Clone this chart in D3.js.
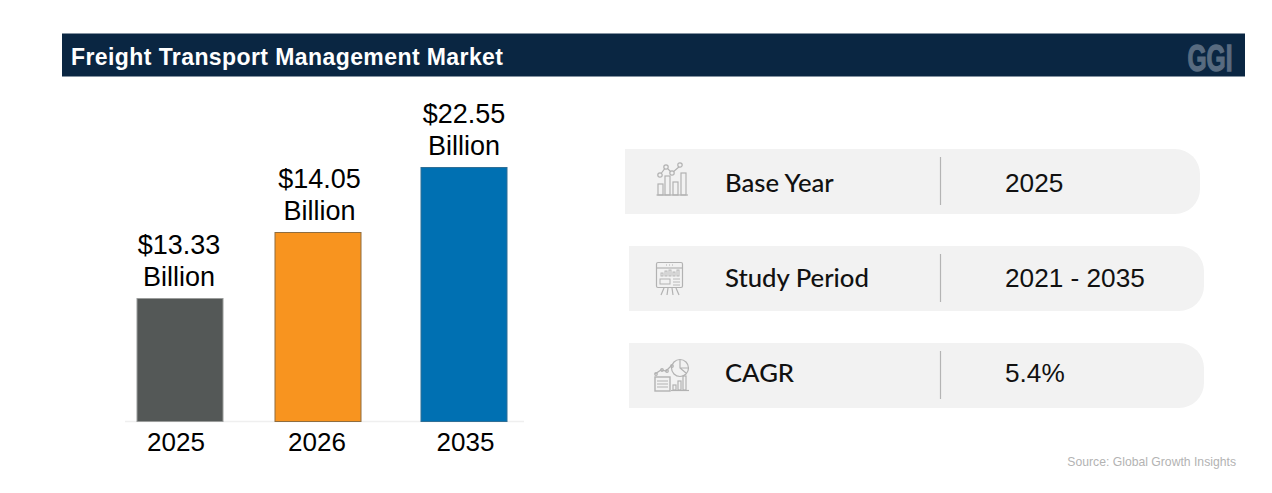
<!DOCTYPE html>
<html>
<head>
<meta charset="utf-8">
<script src="https://cdn.jsdelivr.net/npm/d3@7/dist/d3.min.js"></script>
<style>
html,body{margin:0;padding:0;background:#fff;overflow:hidden}
svg{display:block}
text{font-family:"Liberation Sans",Arial,sans-serif}
</style>
</head>
<body>
<svg id="chart" width="1272" height="493"></svg>
<script>
const chartTitle = "Freight Transport Management Market";
const brandMark = "GGI";
const sourceNote = "Source: Global Growth Insights";

const years = ["2025", "2026", "2035"];
const marketValues = [13.33, 14.05, 22.55];
const barColors = ["#545857", "#f8941f", "#0070b2"];
const barEdges = ["#9a9c9b", "#8f6d3f", "#2f6f96"];

const factLabels = ["Base Year", "Study Period", "CAGR"];
const factValues = ["2025", "2021 - 2035", "5.4%"];

const svg = d3.select("#chart");

// Header band
svg.append("rect").attr("x", 62).attr("y", 33.5).attr("width", 1183).attr("height", 43).attr("fill", "#0a2642");
svg.append("text").attr("x", 71).attr("y", 65).attr("fill", "#fff")
  .attr("font-size", 23).attr("font-weight", 700)
  .attr("textLength", 432).attr("lengthAdjust", "spacing").text(chartTitle);
svg.append("text").attr("x", 1187.5).attr("y", 71).attr("fill", "#586b80")
  .attr("stroke", "#586b80").attr("stroke-width", 1.3)
  .attr("font-size", 36).attr("font-weight", 700)
  .attr("textLength", 45).attr("lengthAdjust", "spacingAndGlyphs").text(brandMark);

// The bars are schematic: the value scale is stepped, not proportional to zero
const y = d3.scaleLinear().domain([0, 13.33, 14.05, 22.55]).range([421, 298, 232, 167]);
const x = d3.scaleOrdinal().domain(years).range([180, 318, 464]);
const barWidth = 86;
const bars = years.map((year, i) => ({ year, value: marketValues[i], i }));

svg.append("line").attr("x1", 125).attr("x2", 524).attr("y1", 421.5).attr("y2", 421.5)
  .attr("stroke", "#efefef").attr("stroke-width", 1.5);

svg.selectAll("rect.bar").data(bars).join("rect").attr("class", "bar")
  .attr("x", d => x(d.year) - barWidth / 2)
  .attr("y", d => y(d.value) + 0.5)
  .attr("width", barWidth)
  .attr("height", d => y(0) - y(d.value))
  .attr("fill", d => barColors[d.i])
  .attr("stroke", d => barEdges[d.i])
  .attr("stroke-width", 1);

// Two-line value labels above each bar
const labelNudge = [-1, 1.5, 0];
const labels = svg.selectAll("g.value").data(bars).join("g").attr("class", "value")
  .attr("text-anchor", "middle").attr("font-size", 27).attr("fill", "#000");
labels.append("text").attr("x", d => x(d.year) + labelNudge[d.i]).attr("y", d => y(d.value) - 44)
  .text(d => "$" + d.value.toFixed(2));
labels.append("text").attr("x", d => x(d.year) + labelNudge[d.i]).attr("y", d => y(d.value) - 12)
  .text("Billion");

// Category axis built with d3.axisBottom; tick labels sit slightly off the bar centres
const tickNudge = { "2025": -4.5, "2026": -1.5, "2035": 1 };
const axis = d3.axisBottom(x).tickSize(0).tickPadding(0);
const axisG = svg.append("g").attr("transform", "translate(0,451)").call(axis);
axisG.select(".domain").remove();
axisG.selectAll("text")
  .attr("dy", 0).attr("dx", d => tickNudge[d])
  .attr("y", 0).attr("font-size", 26).attr("fill", "#000")
  .style("font-family", '"Liberation Sans",Arial,sans-serif');

// Key facts panels, square on the left and rounded on the right
const panelX = [625, 629, 629];
const panelY = [149, 246, 343];
const panelW = 575, panelH = 65, r = 25;
const panelPath = (px, py) =>
  `M${px},${py}H${px + panelW - r}A${r},${r} 0 0 1 ${px + panelW},${py + r}V${py + panelH - r}` +
  `A${r},${r} 0 0 1 ${px + panelW - r},${py + panelH}H${px}Z`;

const panels = svg.selectAll("g.panel").data(factLabels).join("g").attr("class", "panel");
panels.append("path").attr("d", (d, i) => panelPath(panelX[i], panelY[i])).attr("fill", "#f2f2f2");
panels.append("line")
  .attr("x1", 940.5).attr("x2", 940.5)
  .attr("y1", (d, i) => panelY[i] + 8).attr("y2", (d, i) => panelY[i] + 56)
  .attr("stroke", "#b4b4b4").attr("stroke-width", 1.2);
const panelFont = 'Lato,"Noto Sans",sans-serif';
panels.append("text").attr("x", 725).attr("y", (d, i) => [192, 287, 382][i])
  .attr("font-size", 25.7).attr("fill", "#111").style("font-family", panelFont).attr("font-weight", 500)
  .text(d => d);
panels.append("text").attr("x", 1005).attr("y", (d, i) => [192, 287, 382][i])
  .attr("font-size", 26.2).attr("fill", "#111").text((d, i) => factValues[i]);

// Line icons
const iconStroke = "#b2b2b2";
function icon(tx, ty) {
  return svg.append("g").attr("transform", `translate(${tx},${ty})`)
    .attr("fill", "none").attr("stroke", iconStroke).attr("stroke-width", 1.2);
}
// growth chart
const a = icon(655, 162);
a.append("path").attr("d", "M1.500,33H33");
[[3, 22, 5, 11], [10, 14, 5, 19], [18, 20, 5, 13], [26, 11, 5, 22]].forEach(b =>
  a.append("rect").attr("x", b[0]).attr("y", b[1]).attr("width", b[2]).attr("height", b[3]));
a.append("path").attr("d", "M5,13L11,5L17,11L25,4");
[[5, 13], [11, 5], [17, 11], [25, 3]].forEach(p =>
  a.append("circle").attr("cx", p[0]).attr("cy", p[1]).attr("r", 2.2).attr("fill", "#f2f2f2"));

// presentation board
const b = icon(656, 262);
b.append("rect").attr("x", 0.5).attr("y", 0.5).attr("width", 26).attr("height", 25).attr("rx", 1.5);
b.append("path").attr("d", "M0.500,6H26.500");
b.append("path").attr("d", "M10,3H11M13,3H14M16,3H17");
[[5, 11, 2, 3], [9, 9, 2, 5], [13, 8, 2, 6], [17, 10, 2, 4], [21, 8, 2, 6]].forEach(s =>
  b.append("rect").attr("x", s[0]).attr("y", s[1]).attr("width", s[2]).attr("height", s[3]).attr("stroke-width", 0.9));
b.append("rect").attr("x", 4).attr("y", 17).attr("width", 10).attr("height", 5).attr("stroke-width", 1);
b.append("path").attr("d", "M17,17H24M17,20H24M17,23H24").attr("stroke-width", 0.9);
b.append("path").attr("d", "M8,26L5,33M12,26L11,33M16,26L17,33M20,26L23,33");

// report with pie and trend
const c = icon(654, 357);
c.append("circle").attr("cx", 26).attr("cy", 11).attr("r", 8.500);
c.append("path").attr("d", "M26,3V11L32,16M26,11H34.500");
c.append("path").attr("d", "M1,17L7,13L12,14L18,8");
[[1, 17], [7, 13], [12, 14], [17, 9]].forEach(p =>
  c.append("circle").attr("cx", p[0] + 1).attr("cy", p[1]).attr("r", 1.3));
c.append("rect").attr("x", 1).attr("y", 20).attr("width", 15).attr("height", 14).attr("stroke-width", 1.400);
c.append("path").attr("d", "M3,24H14M3,27H14M3,30H14").attr("stroke-width", 1);
[[19, 28, 3, 5], [24, 24, 3, 9], [29, 19, 3, 14]].forEach(s =>
  c.append("rect").attr("x", s[0]).attr("y", s[1]).attr("width", s[2]).attr("height", s[3]));
c.append("path").attr("d", "M17,33.500H35");

svg.append("text").attr("x", 1236).attr("y", 466).attr("text-anchor", "end")
  .attr("font-size", 12.2).attr("fill", "#b3b3b3").text(sourceNote);
</script>
</body>
</html>
